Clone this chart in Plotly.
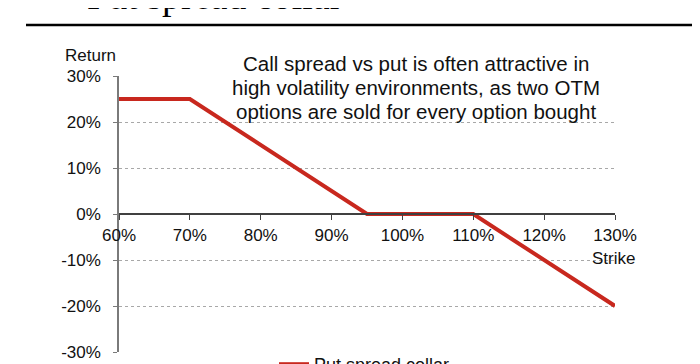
import plotly.graph_objects as go

# Data
strike = [60, 70, 95, 110, 130]
payoff = [25, 25, 0, 0, -20]
x_ticks = [60, 70, 80, 90, 100, 110, 120, 130]
x_tick_labels = ["60%", "70%", "80%", "90%", "100%", "110%", "120%", "130%"]
y_ticks = [-30, -20, -10, 0, 10, 20, 30]
y_tick_labels = ["-30%", "-20%", "-10%", "0%", "10%", "20%", "30%"]
series_name = "Put spread collar"
title_text = "Put spread collar"
note_lines = [
    "Call spread vs put is often attractive in",
    "high volatility environments, as two OTM",
    "options are sold for every option bought",
]

W, H = 700, 364
def px(x):
    return x / W
def py(y):
    return 1 - y / H

FONT = "Liberation Sans, Arial, sans-serif"

fig = go.Figure()
fig.add_trace(go.Scatter(
    x=strike, y=payoff, mode="lines", name=series_name,
    line=dict(color="#c8281e", width=4),
))

fig.update_layout(
    width=W, height=H,
    margin=dict(l=0, r=0, t=0, b=0, autoexpand=False),
    paper_bgcolor="white", plot_bgcolor="white",
    font=dict(family=FONT, size=17, color="#111"),
    showlegend=True,
    legend=dict(orientation="h", x=px(266), y=py(338), xanchor="left", yanchor="top",
                font=dict(size=18, color="#111"), bgcolor="rgba(0,0,0,0)"),
    xaxis=dict(
        domain=[px(111), px(607)], range=[60, 130],
        tickvals=x_ticks, ticktext=x_tick_labels,
        anchor="free", position=py(206),
        showline=True, linecolor="#404040", linewidth=1.5,
        ticks="outside", ticklen=5, tickcolor="#404040",
        showgrid=False, zeroline=False, ticklabelstandoff=1,
    ),
    yaxis=dict(
        domain=[py(344), py(68)], range=[-30, 30],
        tickvals=y_ticks, ticktext=y_tick_labels,
        showline=True, linecolor="#7a7a7a", linewidth=1.5,
        ticks="outside", ticklen=4, tickcolor="#7a7a7a",
        showgrid=True, gridcolor="#a8a8a8", griddash="dot", gridwidth=1,
        zeroline=False, ticklabelstandoff=9,
    ),
)

annotations = [
    dict(text="Return", x=px(82), y=py(48), xref="paper", yref="paper",
         xanchor="center", yanchor="middle", showarrow=False, font=dict(size=17)),
    dict(text="Strike", x=px(605), y=py(250), xref="paper", yref="paper",
         xanchor="center", yanchor="middle", showarrow=False, font=dict(size=17)),
    dict(text=title_text, x=px(77), y=py(-12), xref="paper", yref="paper",
         xanchor="left", yanchor="middle", showarrow=False,
         font=dict(family="Liberation Serif, Times New Roman, serif", size=38, color="#000"),
         ),
]
for i, line in enumerate(note_lines):
    annotations.append(dict(text=line, x=px(408), y=py([55, 79, 103][i]), xref="paper", yref="paper",
                            xanchor="center", yanchor="middle", showarrow=False,
                            font=dict(size=20.5, color="#111")))
fig.update_layout(annotations=annotations)

fig.add_shape(type="line", xref="paper", yref="paper", x0=px(18), x1=px(692), y0=py(17), y1=py(17),
              line=dict(color="#000", width=2.5))

fig.write_html("out.html")
